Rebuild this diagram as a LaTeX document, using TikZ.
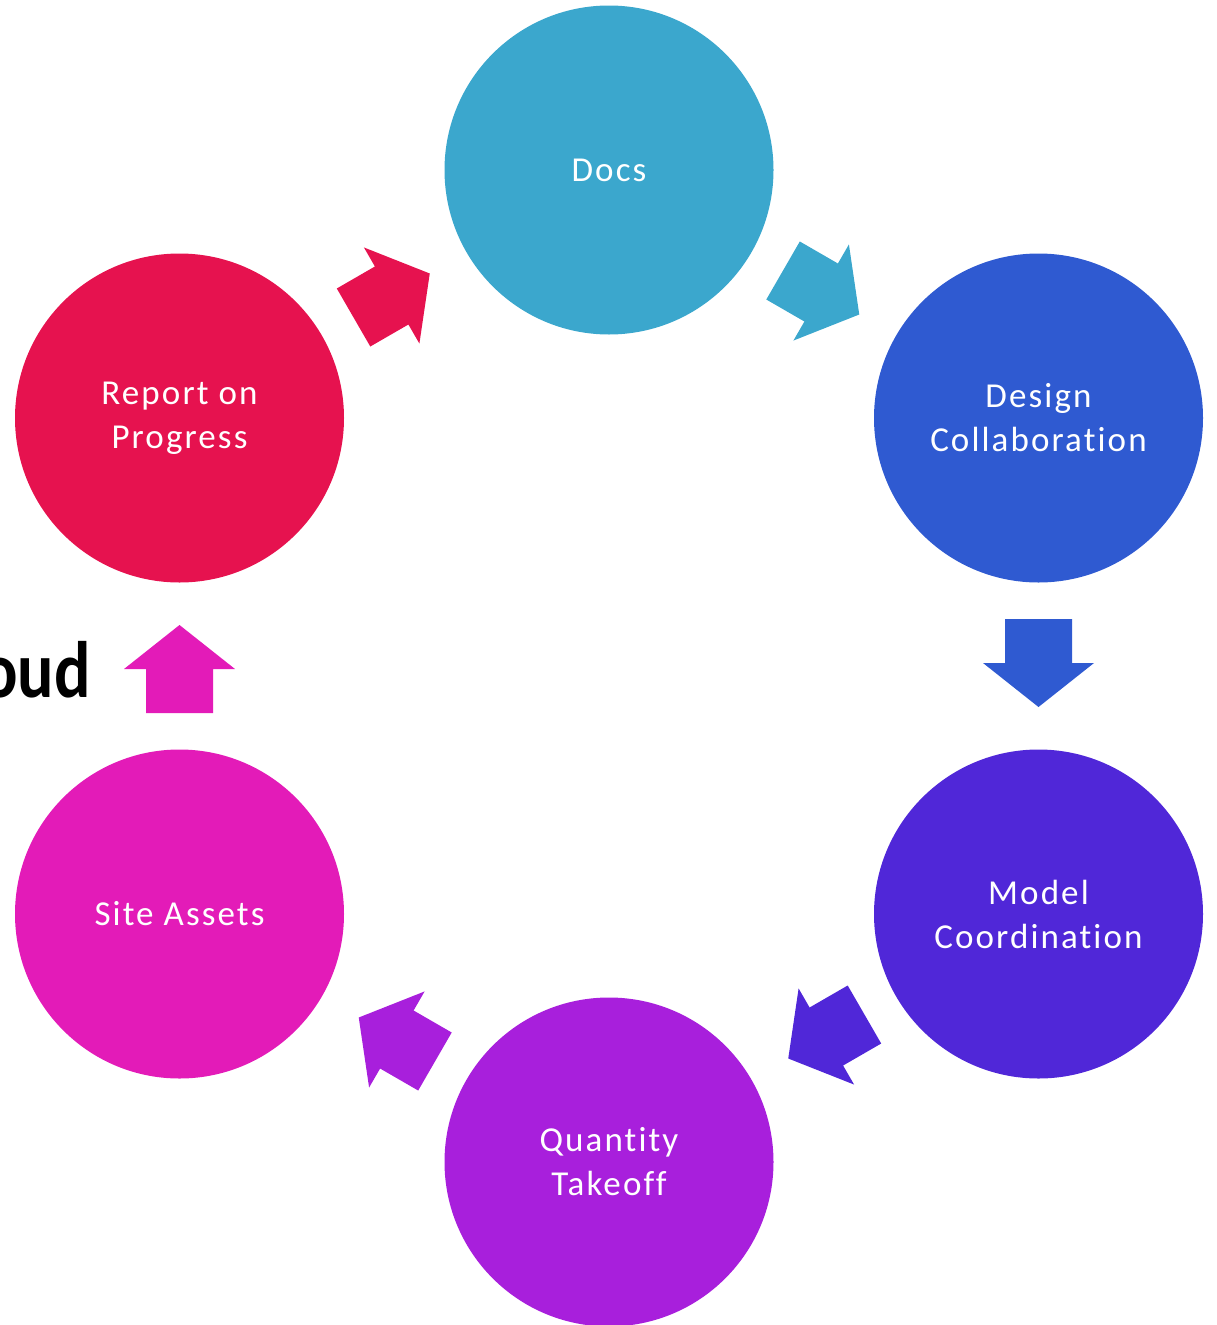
\documentclass[tikz,border=0pt]{standalone}
\usepackage{fontspec}
\setmainfont{Carlito}[Ligatures={NoCommon}]
\usetikzlibrary{calc}
\definecolor{cDocs}{HTML}{3BA7CD}
\definecolor{cDesign}{HTML}{2F5AD1}
\definecolor{cModel}{HTML}{5027D8}
\definecolor{cQuant}{HTML}{A81FDC}
\definecolor{cSite}{HTML}{E31BB8}
\definecolor{cReport}{HTML}{E6124F}
\tikzset{
  stage/.style={circle, minimum size=329pt, inner sep=0pt, text=white, align=center,
    font=\fontsize{35}{44}\selectfont\addfontfeature{LetterSpace=6}},
  blockarrow/.style={fill=#1, draw=none}
}
\newcommand\cyclearrow[4]{% color, from, to, angle
  \begin{scope}[shift={($(#2)!0.5!(#3)$)}, rotate=#4]
    \fill[blockarrow=#1] (-47,-33.5) -- (-3,-33.5) -- (-3,-55.5) -- (41,0) -- (-3,55.5) -- (-3,33.5) -- (-47,33.5) -- cycle;
  \end{scope}}
\begin{document}
\begin{tikzpicture}[x=1pt,y=-1pt]
\useasboundingbox (0,0) rectangle (1217,1325);
\clip (0,0) rectangle (1217,1325);
\node[stage, fill=cDocs]   (docs)   at (609,170)    {Docs};
\node[stage, fill=cDesign] (design) at (1038.5,418) {Design\\Collaboration};
\node[stage, fill=cModel]  (model)  at (1038.5,914) {Model\\Coordination};
\node[stage, fill=cQuant]  (quant)  at (609,1162)   {Quantity\\Takeoff};
\node[stage, fill=cSite]   (site)   at (179.5,914)  {Site Assets};
\node[stage, fill=cReport] (report) at (179.5,418)  {Report on\\Progress};
\cyclearrow{cReport}{report}{docs}{30}
\cyclearrow{cDocs}{docs}{design}{-30}
\cyclearrow{cDesign}{design}{model}{-90}
\cyclearrow{cModel}{model}{quant}{-150}
\cyclearrow{cQuant}{quant}{site}{150}
\cyclearrow{cSite}{site}{report}{90}
\node[anchor=base east, inner sep=0pt, xscale=0.85, transform shape, font=\fontsize{80}{90}\selectfont\bfseries] (cloud) at (91,697) {Cloud};
\end{tikzpicture}
\end{document}
